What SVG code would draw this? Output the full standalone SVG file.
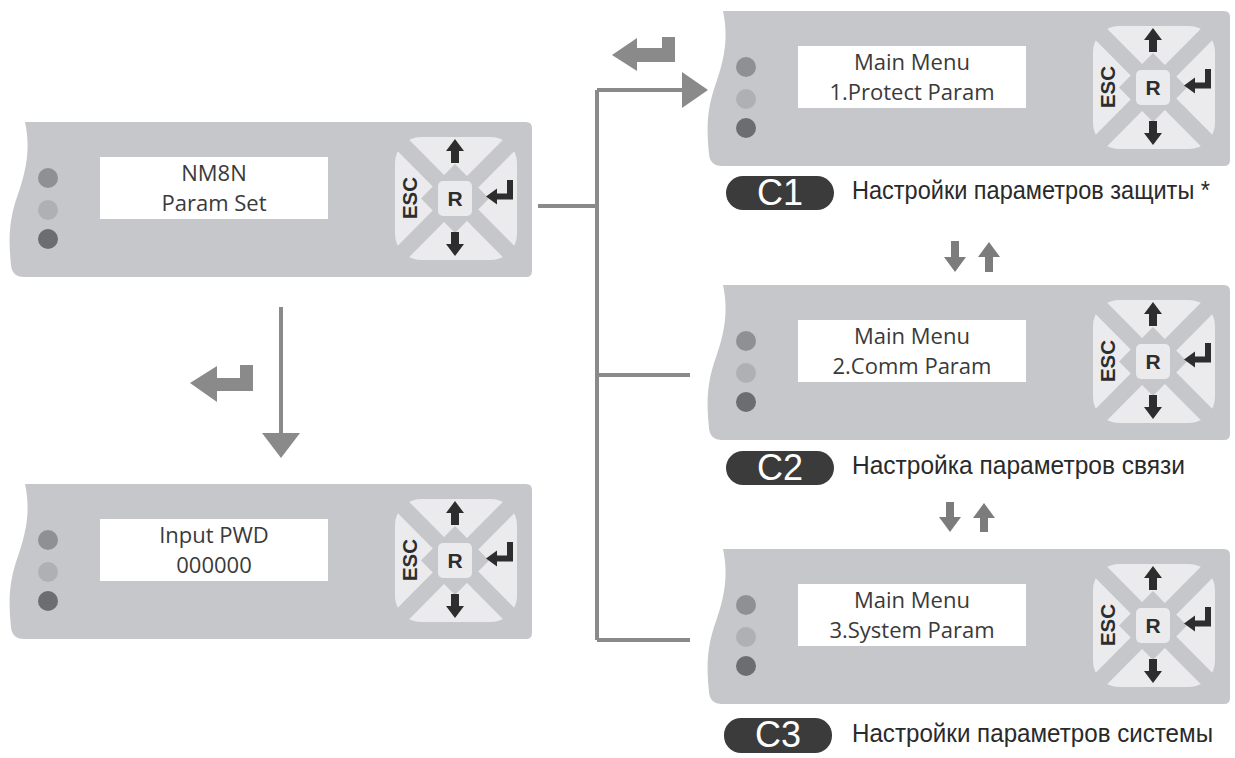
<svg xmlns="http://www.w3.org/2000/svg" xmlns:xlink="http://www.w3.org/1999/xlink" width="1235" height="758" viewBox="0 0 1235 758">
<style>
.body{fill:#c6c7cb}
.lcd{fill:#ffffff}
.lcdt{font-family:"Open Sans","DejaVu Sans",sans-serif;font-size:22px;fill:#3a3a3a;text-anchor:middle}
.pad{fill:#ebebed}
.padcut{stroke:#c6c7cb;stroke-width:16}
.key{fill:#2d2d2d}
.keyt{font-family:"Liberation Sans",Arial,sans-serif;font-weight:bold;fill:#2d2d2d;text-anchor:middle}
.conn{stroke:#8a8a8a;stroke-width:4;fill:none}
.connh{fill:#8a8a8a}
.icon{fill:#8a8a8a}
.nav{fill:#7c7c7c}
.pill{fill:#3b3b3b}
.pillt{font-family:"Liberation Sans",Arial,sans-serif;font-size:36px;fill:#ffffff;text-anchor:middle}
.lab{font-family:"Liberation Sans",Arial,sans-serif;font-size:25px;fill:#2a2a2a}
</style>
<defs>
<g id="panel-base">
<path class="body" d="M25,122 L526,122 Q532,122 532,128 L532,271 Q532,277 526,277 L24,277 Q12,277 11,265 C9,245 8,225 16,200 C26,172 31,150 25,122 Z"/>
<circle cx="48" cy="178" r="10" fill="#8f9094"/>
<circle cx="48" cy="210" r="10" fill="#afb0b4"/>
<circle cx="48" cy="239" r="10" fill="#6c6d71"/>
<rect class="lcd" x="100" y="157" width="228" height="62"/>
<rect class="pad" x="395" y="137" width="122" height="123" rx="26"/>
<line class="padcut" x1="395" y1="137" x2="517" y2="260"/>
<line class="padcut" x1="517" y1="137" x2="395" y2="260"/>
<polygon fill="#c6c7cb" points="455,164 489,198.5 455,233 421,198.5"/>
<rect class="pad" x="438" y="181" width="34" height="35" rx="5"/>
<text class="keyt" x="455" y="206" font-size="21">R</text>
<text class="keyt" font-size="21" transform="translate(417,198) rotate(-90)" textLength="42" lengthAdjust="spacingAndGlyphs">ESC</text>
<path class="key" d="M455,139 L464,151 L459,151 L459,163 L451,163 L451,151 L446,151 Z"/>
<path class="key" d="M455,256 L464,244 L459,244 L459,232 L451,232 L451,244 L446,244 Z"/>
<path class="key" d="M486,196.5 L497,188.5 L497,193.5 L507,193.5 L507,180 L513,180 L513,199.5 L497,199.5 L497,204.5 Z"/>
</g>
</defs>
<rect width="1235" height="758" fill="#ffffff"/>

<g id="connectors">
<path class="conn" d="M538,206 H597"/>
<path class="conn" d="M597,90 V640"/>
<path class="conn" d="M597,90 H686"/>
<polygon class="connh" points="682,72 708,90 682,108"/>
<path class="conn" d="M597,375 H690"/>
<path class="conn" d="M597,640 H690"/>
<path class="conn" d="M281,307 V436"/>
<polygon class="connh" points="262,433 300,433 281,458"/>
</g>

<g id="icon-enter-top">
<polygon class="icon" points="612,55 637,38 637,48 662,48 662,37 675,37 675,62 637,62 637,71"/>
</g>
<g id="icon-enter-left">
<polygon class="icon" points="190,383 217,366 217,378 240,378 240,365 253,365 253,391 217,391 217,402"/>
</g>

<g id="nav-arrows-1">
<path class="nav" d="M951,241 H959 V257 H966 L955,272 L944,257 H951 Z"/>
<path class="nav" d="M989,242 L1000,257 H993 V272 H985 V257 H978 Z"/>
</g>
<g id="nav-arrows-2">
<path class="nav" d="M946,502 H954 V517 H961 L950,532 L939,517 H946 Z"/>
<path class="nav" d="M984,503 L995,518 H988 V532 H980 V518 H973 Z"/>
</g>

<g id="node-nm8n">
<use xlink:href="#panel-base" href="#panel-base"/>
<text class="lcdt" x="214" y="181">NM8N</text>
<text class="lcdt" x="214" y="211">Param Set</text>
</g>

<g id="node-input-pwd" transform="translate(0,362)">
<use xlink:href="#panel-base" href="#panel-base"/>
<text class="lcdt" x="214" y="181">Input PWD</text>
<text class="lcdt" x="214" y="211">000000</text>
</g>

<g id="node-c1" transform="translate(698,-111)">
<use xlink:href="#panel-base" href="#panel-base"/>
<text class="lcdt" x="214" y="181">Main Menu</text>
<text class="lcdt" x="214" y="211">1.Protect Param</text>
</g>

<g id="node-c2" transform="translate(698,163)">
<use xlink:href="#panel-base" href="#panel-base"/>
<text class="lcdt" x="214" y="181">Main Menu</text>
<text class="lcdt" x="214" y="211">2.Comm Param</text>
</g>

<g id="node-c3" transform="translate(698,427)">
<use xlink:href="#panel-base" href="#panel-base"/>
<text class="lcdt" x="214" y="181">Main Menu</text>
<text class="lcdt" x="214" y="211">3.System Param</text>
</g>

<g id="label-c1">
<rect class="pill" x="726" y="176" width="108" height="34" rx="17"/>
<text class="pillt" x="780" y="205">C1</text>
<text class="lab" x="852" y="199" textLength="358" lengthAdjust="spacingAndGlyphs">Настройки параметров защиты *</text>
</g>
<g id="label-c2">
<rect class="pill" x="726" y="451" width="108" height="34" rx="17"/>
<text class="pillt" x="780" y="480">C2</text>
<text class="lab" x="852" y="474" textLength="333" lengthAdjust="spacingAndGlyphs">Настройка параметров связи</text>
</g>
<g id="label-c3">
<rect class="pill" x="724" y="718" width="108" height="35" rx="17"/>
<text class="pillt" x="778" y="747">C3</text>
<text class="lab" x="852" y="742" textLength="361" lengthAdjust="spacingAndGlyphs">Настройки параметров системы</text>
</g>
</svg>
